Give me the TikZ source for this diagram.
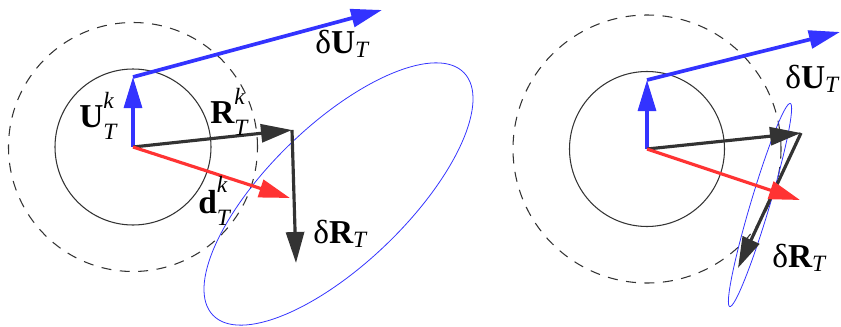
\documentclass[tikz,border=0pt]{standalone}
\usepackage{amsmath}
\usepackage{fontspec}
\setmainfont{Liberation Serif}
\usepackage{tikz}
\usepackage{xcolor}
\usetikzlibrary{arrows.meta,positioning}

\definecolor{vecblue}{RGB}{51,51,255}
\definecolor{vecred}{RGB}{255,51,51}
\definecolor{vecgray}{RGB}{51,51,51}

\newcommand{\veck}[1]{$\textbf{#1}_{\raisebox{-0.35ex}{$\scriptstyle\textit{T}$}}^{\raisebox{0.45ex}{$\scriptstyle\textit{k}$}}$}
\newcommand{\vecd}[1]{δ$\textbf{#1}_{\textit{T}}$}

\begin{document}
\begin{tikzpicture}[
    vec/.style={-{Triangle[length=0.62cm,width=0.36cm]}, line width=1.8pt},
    uvec/.style={vec, draw=vecblue, fill=vecblue},
    rvec/.style={vec, draw=vecgray, fill=vecgray},
    dvec/.style={vec, draw=vecred, fill=vecred},
    inner/.style={draw=vecgray, line width=0.6pt},
    outer/.style={draw=vecgray, line width=0.6pt, dash pattern=on 0.2cm off 0.17cm},
    cov/.style={draw=vecblue, line width=0.45pt},
    lbl/.style={anchor=base west, inner sep=0pt, font=\fontsize{19}{23}\selectfont}
]
\useasboundingbox (0,0) rectangle (16.82,-6.52);

% Left panel
\coordinate (o1) at (2.66,-2.94);
\coordinate (u1) at (2.66,-1.54);
\coordinate (du1) at (7.64,-0.20);
\coordinate (r1) at (5.84,-2.60);
\coordinate (dr1) at (5.92,-5.26);
\coordinate (d1) at (5.80,-3.96);

\draw[inner] (o1) circle (1.56);
\draw[outer] (o1) circle (2.49);
\draw[cov] (6.77,-3.88) ellipse[x radius=3.49, y radius=1.39, rotate=44];

\draw[uvec] (o1) -- (u1);
\draw[uvec, line width=2.1pt] (u1) -- (du1);
\draw[rvec] (o1) -- (r1);
\draw[rvec] (r1) -- (dr1);
\draw[dvec] (o1) -- (d1);

\node[lbl] (lu1) at (1.58,-2.54) {\veck{U}};
\node[lbl] (lr1) at (4.20,-2.46) {\veck{R}};
\node[lbl] (ld1) at (3.96,-4.26) {\veck{d}};
\node[lbl] (ldu1) at (6.30,-1.06) {\vecd{U}};
\node[lbl] (ldr1) at (6.26,-4.86) {\vecd{R}};

% Right panel
\coordinate (o2) at (12.94,-2.98);
\coordinate (u2) at (12.94,-1.60);
\coordinate (du2) at (16.80,-0.64);
\coordinate (r2) at (16.02,-2.66);
\coordinate (dr2) at (14.76,-5.36);
\coordinate (d2) at (16.00,-4.00);

\draw[inner] (o2) circle (1.55);
\draw[outer] (o2) circle (2.68);
\draw[cov] (15.20,-4.10) ellipse[x radius=2.12, y radius=0.19, rotate=73.4];

\draw[uvec] (o2) -- (u2);
\draw[uvec, line width=2.1pt] (u2) -- (du2);
\draw[rvec] (o2) -- (r2);
\draw[rvec] (r2) -- (dr2);
\draw[dvec] (o2) -- (d2);

\node[lbl] (ldu2) at (15.70,-1.76) {\vecd{U}};
\node[lbl] (ldr2) at (15.44,-5.34) {\vecd{R}};

\end{tikzpicture}
\end{document}
